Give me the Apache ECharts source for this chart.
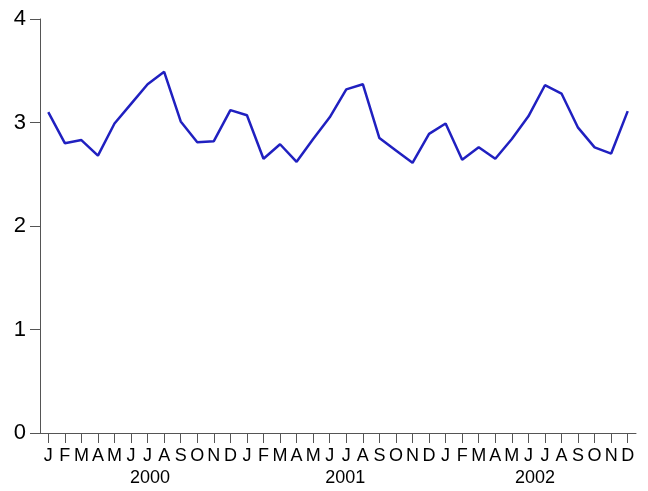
<!DOCTYPE html>
<html>
<head>
<meta charset="utf-8">
<script src="https://cdn.jsdelivr.net/npm/echarts@6/dist/echarts.min.js"></script>
<style>
html,body{margin:0;padding:0;background:#fff;}
#chart{width:648px;height:491px;}
</style>
</head>
<body>
<div id="chart"></div>
<script>
const monthLetters = ['J','F','M','A','M','J','J','A','S','O','N','D'];
const years = ['2000','2001','2002'];
const values = [
  3.10, 2.80, 2.83, 2.68, 2.99, 3.18, 3.37, 3.49, 3.01, 2.81, 2.82, 3.12,
  3.07, 2.65, 2.79, 2.62, 2.84, 3.05, 3.32, 3.37, 2.85, 2.73, 2.61, 2.89,
  2.99, 2.64, 2.76, 2.65, 2.84, 3.06, 3.36, 3.28, 2.95, 2.76, 2.70, 3.11
];
const yMin = 0, yMax = 4, yStep = 1;

const categories = [];
years.forEach(y => monthLetters.forEach((m, i) => categories.push(y + '-' + (i + 1))));

// small horizontal nudges for the year labels (style only)
const yearRich = {
  y0: {padding: [0, 0, 0, 5]},
  y1: {padding: [0, 2, 0, 0]},
  y2: {padding: [0, 20, 0, 0]}
};

const font = 'Liberation Sans, Arial, sans-serif';
const axisColor = '#555555';

const chart = echarts.init(document.getElementById('chart'), null, {renderer: 'canvas'});
chart.setOption({
  animation: false,
  backgroundColor: '#ffffff',
  grid: {left: 40, right: 12, top: 19, bottom: 58, containLabel: false},
  xAxis: [
    {
      type: 'category',
      data: categories,
      boundaryGap: true,
      axisLine: {show: true, lineStyle: {color: axisColor, width: 1}},
      axisTick: {show: true, alignWithLabel: true, interval: 0, length: 10, lineStyle: {color: axisColor}},
      axisLabel: {
        interval: 0, margin: 14, fontSize: 18, color: '#000', fontFamily: font,
        formatter: v => monthLetters[parseInt(v.split('-')[1], 10) - 1]
      },
      splitLine: {show: false}
    },
    {
      type: 'category',
      data: categories,
      position: 'bottom',
      boundaryGap: true,
      axisLine: {show: false},
      axisTick: {show: false},
      axisLabel: {
        interval: 0, margin: 36, fontSize: 18, color: '#000', fontFamily: font,
        formatter: v => {
          const parts = v.split('-');
          if (parseInt(parts[1], 10) !== 7) return '';
          const yi = years.indexOf(parts[0]);
          return '{y' + yi + '|' + parts[0] + '}';
        },
        rich: Object.fromEntries(Object.entries(yearRich).map(([k, s]) =>
          [k, Object.assign({fontSize: 18, color: '#000', fontFamily: font}, s)]))
      },
      splitLine: {show: false}
    }
  ],
  yAxis: {
    type: 'value',
    min: yMin, max: yMax, interval: yStep,
    axisLine: {show: true, lineStyle: {color: axisColor, width: 1}},
    axisTick: {show: true, length: 10, lineStyle: {color: axisColor}},
    axisLabel: {margin: 14, fontSize: 22, color: '#000', fontFamily: font},
    splitLine: {show: false}
  },
  series: [{
    type: 'line',
    xAxisIndex: 0,
    data: values,
    showSymbol: false,
    symbol: 'none',
    lineStyle: {color: '#2020c0', width: 2.5},
    itemStyle: {color: '#2020c0'}
  }]
});
</script>
</body>
</html>
